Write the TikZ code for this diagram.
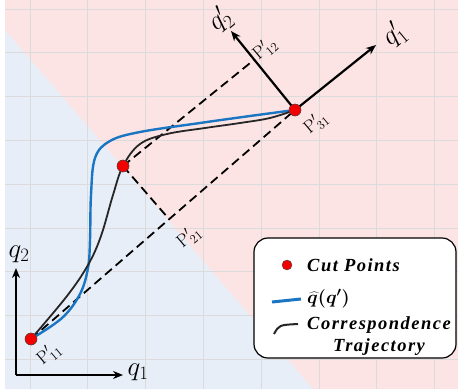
\RequirePackage{fix-cm}
\documentclass[tikz,border=0pt]{standalone}
\usepackage{fontspec}
\usepackage{bm}
\usetikzlibrary{calc,arrows.meta}
\newfontfamily\legfont{Liberation Serif}[LetterSpace=8]
\definecolor{bgpink}{HTML}{FDE4E4}
\definecolor{bgblue}{HTML}{E7EEF8}
\definecolor{curveblue}{HTML}{1A75C2}
\definecolor{cutred}{HTML}{F20000}
\tikzset{
  cutpt/.style={circle,fill=cutred,draw=black!70,line width=0.4pt,inner sep=0pt,minimum size=12pt},
  axis/.style={line width=2.2pt,-{Stealth[length=10pt,width=8pt]}},
  proj/.style={dash pattern=on 9pt off 5pt,line width=1.8pt},
  gridline/.style={black!14,line width=0.8pt},
  bluecurve/.style={curveblue,line width=2.4pt},
  blackcurve/.style={black!85,line width=1.8pt},
  plabel/.style={rotate=40,inner sep=0pt,font=\fontsize{18}{20}\selectfont},
  alabel/.style={inner sep=0pt,font=\fontsize{27}{29}\selectfont},
  legtext/.style={font=\legfont\bfseries\itshape\fontsize{18.5}{20}\selectfont,anchor=west,inner sep=0pt}
}
\begin{document}
\begin{tikzpicture}[x=1pt,y=-1pt]
\useasboundingbox (0,0) rectangle (458,389);
% background halves
\fill[bgpink] (5,0) rectangle (458,389);
\fill[bgblue] (5,30) -- (313,389) -- (5,389) -- cycle;
\foreach \i in {0,...,7}
  \draw[gridline] ({30+57.8*\i},0) -- ++(0,389);
\foreach \j in {0,...,8}
  \draw[gridline] (5,{9+43.8*\j}) -- ++(453,0);
% cut points and axes
\node[cutpt] (p11) at (31,339) {};
\node[cutpt] (p21) at (123,166) {};
\node[cutpt] (p31) at (295,110) {};
\coordinate (q1e) at (376,45);
\coordinate (q2e) at (231,31);
\coordinate (f21) at ($(p11.center)!(p21.center)!(p31.center)$);
\coordinate (f12) at ($(p31.center)!(p21.center)!(q2e)$);
\draw[proj] (p11.center) -- (p31.center);
\draw[proj] (p21.center) -- (f21);
\draw[proj] (p21.center) -- (f12);
% curves
\draw[bluecurve] plot[smooth,tension=0.6] coordinates {
(31,339) (62,318) (80,294) (88,268) (90,240) (91,195)
(95,158) (110,141) (140,132) (200,123) (250,116) (295,110)};
\draw[blackcurve] plot[smooth,tension=0.6] coordinates {
(31,339) (67,296) (88,265) (101,236) (113,195) (123,166)
(140,144) (167,134) (205,128) (240,123) (270,118) (295,110)};
\draw[axis] (p31.center) -- (q1e);
\draw[axis] (p31.center) -- (q2e);
\node[cutpt] at (p11) {};
\node[cutpt] at (p21) {};
\node[cutpt] at (p31) {};
\coordinate (o) at (16,375);
\draw[axis] (o) -- (16,268);
\draw[axis] (o) -- (123,375);
% labels
\node[alabel] (lq2) at (19,254) {$q_2$};
\node[alabel] (lq1) at (138,372) {$q_1$};
\node[alabel,rotate=40] (lq1p) at (394,35) {$q'_1$};
\node[alabel,rotate=40] (lq2p) at (220,20) {$q'_2$};
\node[plabel] (l11) at (49,354) {$\mathrm{P}'_{11}$};
\node[plabel] (l21) at (189,237) {$\mathrm{P}'_{21}$};
\node[plabel] (l31) at (316,123) {$\mathrm{P}'_{31}$};
\node[plabel] (l12) at (265,49) {$\mathrm{P}'_{12}$};
% legend
\node[draw,fill=white,line width=1.2pt,rounded corners=14pt,minimum width=202pt,minimum height=120pt] (leg) at (355,298) {};
\node[cutpt,minimum size=10pt] (legdot) at (287,265) {};
\node[legtext] (legcut) at (307,265) {Cut Points};
\draw[bluecurve,line width=3pt] (272,302) -- (301,299);
\node[legtext] (legq) at (307,299) {$\bm{\widehat{q}(q')}$};
\draw[blackcurve,line width=2pt] (274,334) .. controls (279,325) .. (298,324);
\node[legtext] (legcor) at (307,325) {Correspondence};
\node[legtext] (legtra) at (333,347) {Trajectory};
\end{tikzpicture}
\end{document}
